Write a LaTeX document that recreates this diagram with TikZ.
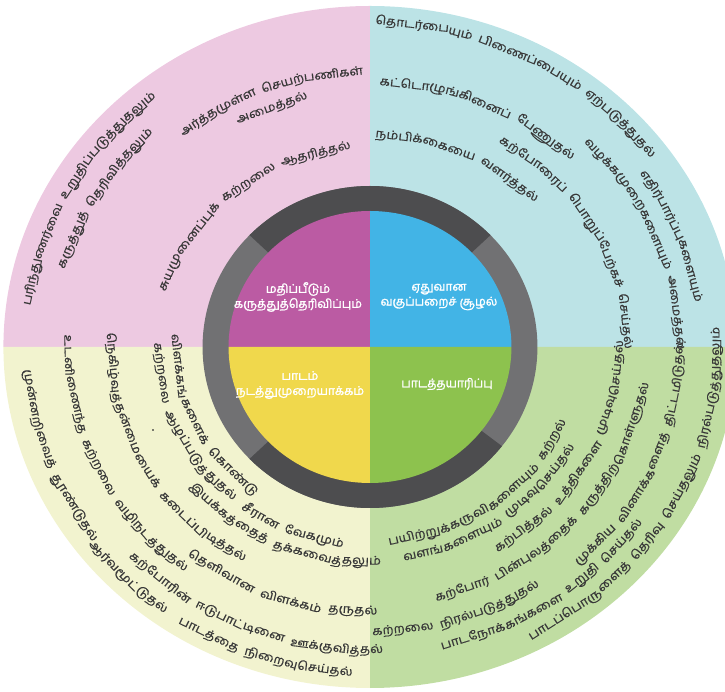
\documentclass[tikz,border=0pt]{standalone}
\usepackage{fontspec}
\newfontfamily\tamilfam[Script=Tamil,FakeStretch=1.12,FakeBold=0.5]{Hind Madurai}
\newfontfamily\tamillab[Script=Tamil,FakeBold=1.6]{Hind Madurai}
\newcommand\tfont{\tamilfam\fontsize{12}{14}\selectfont}
\definecolor{qpink}{HTML}{EDC9E1}
\definecolor{qblue}{HTML}{BCE3E6}
\definecolor{qyellow}{HTML}{F2F3CF}
\definecolor{qgreen}{HTML}{C0DDA2}
\definecolor{cmag}{HTML}{BB5BA3}
\definecolor{cblue}{HTML}{42B4E6}
\definecolor{cyellow}{HTML}{F0D84C}
\definecolor{cgreen}{HTML}{8DC24E}
\definecolor{ringdark}{HTML}{4D4D4F}
\definecolor{ringlight}{HTML}{717173}
\definecolor{txtc}{HTML}{383838}
\newdimen\awd
\newsavebox\awbox
\gdef\allarcs{}
\def\gapmark{/}
\def\axs{1.07}% horizontal stretch of the text rings
% #1 radius, #2 start angle, #3 end angle, #4 comma separated pieces; "/" = word space
% measured outside the picture; the nodes are collected in \allarcs
\newcommand\arcline[4]{%
  \pgfmathsetmacro\adir{ifthenelse(#3>#2,1,-1)}%
  \pgfmathsetmacro\adeg{57.29578/#1}%
  \pgfmathsetmacro\acen{(#2+#3)/2}%
  \pgfmathsetmacro\afac{sqrt((\axs*sin(\acen))^2+(cos(\acen))^2)}%
  \sbox\awbox{\tfont\ }\awd=\wd\awbox\relax
  \pgfmathsetmacro\aspw{2*\awd}%
  \gdef\asum{0}\gdef\angap{0}%
  \foreach \w in {#4}{\ifx\w\gapmark
      \pgfmathsetmacro\atmp{\angap+1}\xdef\angap{\atmp}%
    \else
      \sbox\awbox{\tfont\w}\awd=\wd\awbox\relax
      \pgfmathsetmacro\atmp{\asum+\awd}\xdef\asum{\atmp}%
    \fi}%
  \pgfmathsetmacro\aspan{abs(#3-#2)/\adeg*\afac}%
  \pgfmathsetmacro\agap{max(\aspw,(\aspan-\asum)/max(\angap,1))}%
  \pgfmathsetmacro\atot{\asum+\angap*\agap}%
  \pgfmathsetmacro\atmp{\acen-\adir*\atot*\adeg/\afac/2}\xdef\acur{\atmp}%
  \foreach \w in {#4}{%
    \pgfmathsetmacro\aloc{\adeg/sqrt((\axs*sin(\acur))^2+(cos(\acur))^2)}%
    \ifx\w\gapmark
      \pgfmathsetmacro\atmp{\acur+\adir*\agap*\aloc}\xdef\acur{\atmp}%
    \else
      \sbox\awbox{\tfont\w}\awd=\wd\awbox\relax
      \pgfmathsetmacro\amid{\acur+\adir*\awd*\aloc/2}%
      \pgfmathsetmacro\aloc{\adeg/sqrt((\axs*sin(\amid))^2+(cos(\amid))^2)}%
      \pgfmathsetmacro\amid{\acur+\adir*\awd*\aloc/2}%
      \pgfmathsetmacro\arot{atan2(cos(\amid),-\axs*sin(\amid))+90-\adir*90}%
      \xdef\allarcs{\unexpanded\expandafter{\allarcs}\noexpand\node[arcw,rotate=\arot] at (\amid:#1) {\unexpanded\expandafter{\w}};}%
      \pgfmathsetmacro\atmp{\acur+\adir*\awd*\aloc}\xdef\acur{\atmp}%
    \fi}%
}
\begin{document}
% top-left
\arcline{322}{170}{131}{பரிந்து,ணர்வை,/,உறுதிப்,படுத்து,தலும்}%
\arcline{297}{164}{134}{கருத்துத்,/,தெரிவித்,தலும்}%
\arcline{276}{129}{92}{அர்த்த,முள்ள,/,செயற்,பணிகள்}%
\arcline{256}{119}{103}{அமைத்தல்}%
\arcline{200}{163}{96}{சுயமு,னைப்புக்,/,கற்றலை,/,ஆதரித்தல்}%
% top-right
\arcline{325}{87}{38}{தொடர்பை,யும்,/,பிணைப்,பையும்,/,ஏற்படுத்,துதல்}%
\arcline{266}{87}{46}{கட்டொ,ழுங்கி,னைப்,/,பேணுதல்}%
\arcline{212}{86}{46}{நம்பிக்,கையை,/,வளர்த்தல்}%
\arcline{240}{58}{1}{கற்போ,ரைப்,/,பொறுப்,பேற்கச்,/,செய்தல்}%
\arcline{309}{34}{9}{எதிர்,பார்ப்பு,களையும்}%
\arcline{288}{45}{0}{வழக்க,முறை,களையும்,/,அமைத்தல்}%
% bottom-left
\arcline{320}{187}{214}{முன்னறி,வைத்,/,தூண்டுதல்}%
\arcline{325}{218}{233}{ஆர்வமூட்,டுதல்}%
\arcline{325}{238}{266}{பாடத்தை,/,நிறைவு,செய்தல்}%
\arcline{281}{181}{229}{உடனி,ணைந்த,/,கற்றலை,/,வழிநடத்,துதல்}%
\arcline{303}{226}{269}{கற்போரின்,/,ஈடுபாட்,டினை,/,ஊக்குவித்,தல்}%
\arcline{241}{181}{237}{நெகிழ்வுத்,தன்மை,யைக்,/,கடைப்பி,டித்தல்}%
\arcline{264}{233}{269}{தெளிவான,/,விளக்கம்,/,தருதல்}%
\arcline{197}{182}{227}{கற்றலை,/,ஆழப்படுத்,துதல்}%
\arcline{179}{182}{228}{விளக்கங்,களைக்,/,கொண்டு}%
\arcline{197}{234}{262}{சீரான,/,வேகமும்}%
\arcline{215}{222}{270}{இயக்கத்,தைத்,/,தக்கவைத்,தலும்}%
% bottom-right
\arcline{194}{277}{336}{பயிற்றுக்,கருவி,களையும்,/,கற்றல்}%
\arcline{211}{282}{329}{வளங்,களையும்,/,முடிவு,செய்தல்}%
\arcline{232}{304}{358}{கற்பித்தல்,/,உத்திகளை,/,முடிவு,செய்தல்}%
\arcline{257}{286}{350}{கற்போர்,/,பின்புலத்,தைக்,/,கருத்திற்,கொள்ளுதல்}%
\arcline{284}{273}{301}{கற்றலை,/,நிரல்படுத்,துதல்}%
\arcline{289}{314}{359}{முக்கிய,/,வினாக்க,ளைத்,/,திட்டமி,டுதல்}%
\arcline{305}{288}{320}{பாடநோக்,கங்களை,/,உறுதி,/,செய்தல்}%
\arcline{324}{302}{359}{பாடப்பொரு,ளைத்,/,தெரிவு,/,செய்தலும்,/,நிரல்படுத்,துதலும்}%
\begin{tikzpicture}[x=1pt,y=1pt,
  arcw/.style={font=\tfont, text=txtc, inner sep=0pt},
  lab/.style={font=\tamillab\fontsize{12}{15}\selectfont, text=white, align=center, inner sep=0pt}]
\useasboundingbox (-370,-345) rectangle (355,347);
% outer quadrants
\begin{scope}[xscale=1.075]
  \fill[qpink]   (0,0) -- (90:341)  arc[start angle=90, end angle=180, radius=341] -- cycle;
  \fill[qblue]   (0,0) -- (0:341)   arc[start angle=0, end angle=90, radius=341] -- cycle;
  \fill[qyellow] (0,0) -- (180:341) arc[start angle=180, end angle=270, radius=341] -- cycle;
  \fill[qgreen]  (0,0) -- (270:341) arc[start angle=270, end angle=360, radius=341] -- cycle;
\end{scope}
% ring and inner disk
\begin{scope}[xscale=1.04]
  \fill[ringlight] (0,0) circle[radius=161];
  \fill[ringdark] (44:161) arc[start angle=44, end angle=136, radius=161] -- (136:135) arc[start angle=136, end angle=44, radius=135] -- cycle;
  \fill[ringdark] (224:161) arc[start angle=224, end angle=322, radius=161] -- (322:135) arc[start angle=322, end angle=224, radius=135] -- cycle;
  \fill[cmag]    (0,0) -- (90:136)  arc[start angle=90, end angle=180, radius=136] -- cycle;
  \fill[cblue]   (0,0) -- (0:136)   arc[start angle=0, end angle=90, radius=136] -- cycle;
  \fill[cyellow] (0,0) -- (180:136) arc[start angle=180, end angle=270, radius=136] -- cycle;
  \fill[cgreen]  (0,0) -- (270:136) arc[start angle=270, end angle=360, radius=136] -- cycle;
\end{scope}
\node[lab] (lmag) at (-72,50) {மதிப்பீடும்\\கருத்துத்தெரிவிப்பும்};
\node[lab] (lblue) at (69,50) {ஏதுவான\\வகுப்பறைச் சூழல்};
\node[lab] (lyel) at (-70,-38) {பாடம்\\நடத்துமுறையாக்கம்};
\node[lab] (lgrn) at (77,-37) {பாடத்தயாரிப்பு};
% outer texts
\begin{scope}[xscale=\axs]
  \allarcs
\end{scope}
\node[font=\tfont, text=txtc, inner sep=0pt] (dot) at (-217,-83) {.};
\end{tikzpicture}
\end{document}
